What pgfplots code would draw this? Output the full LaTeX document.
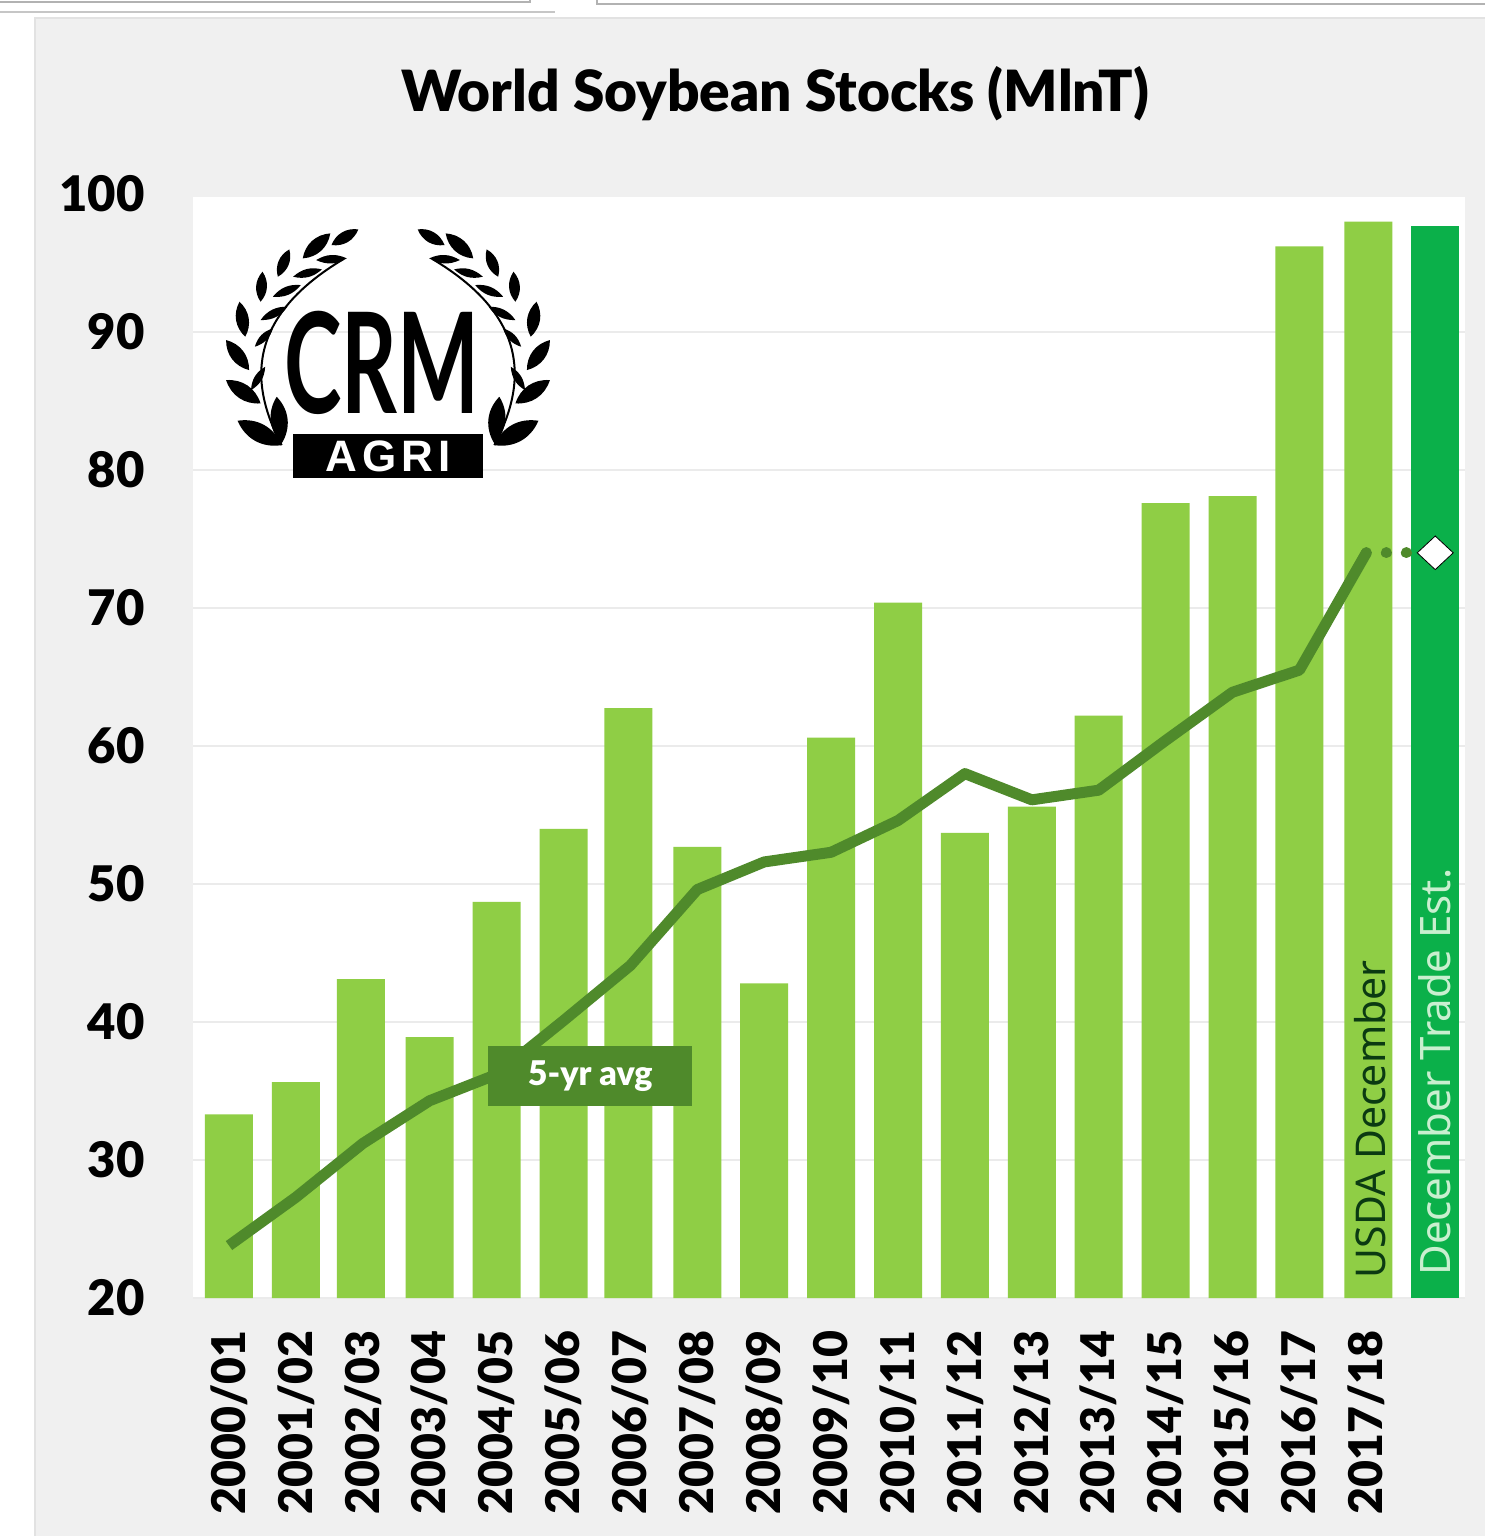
\documentclass[border=0pt]{standalone}
\usepackage{fontspec}
\setmainfont{Lato}
\newfontfamily\heavyfont{Lato Black}
\newfontfamily\thinfont{Noto Sans}
\newfontfamily\agrifont[LetterSpace=12]{Liberation Sans}
\usepackage{pgfplots}
\pgfplotsset{compat=1.18}
\definecolor{panel}{HTML}{F0F0F0}
\definecolor{panelline}{HTML}{E2E2E2}
\definecolor{gridc}{HTML}{EBEBEB}
\definecolor{barc}{HTML}{8FCE45}
\definecolor{estc}{HTML}{0BB04A}
\definecolor{avgc}{HTML}{4F8A2B}
\definecolor{usdac}{HTML}{0B3A12}
\definecolor{estt}{HTML}{C9EFCF}
\begin{document}
% 1 unit = 1 reference pixel, y downwards
\begin{tikzpicture}[x=0.5pt,y=-0.5pt]
\path[use as bounding box] (0,0) rectangle (1485,1536);
% screenshot leftovers and grey panel
\fill[white] (0,0) rectangle (1485,1536);
\draw[gray!60,line width=0.8pt] (0,2) -- (530,2) -- (530,0);
\draw[gray!60,line width=0.8pt] (597,0) -- (597,4) -- (1485,4);
\draw[gray!45,line width=0.6pt] (0,12) -- (555,12);
\fill[panel] (35,18) rectangle (1485,1536);
\draw[panelline,line width=1.2pt] (35,1536) -- (35,18) -- (1485,18);
\node[font=\heavyfont\fontsize{28.4}{30}\selectfont,text=black] at (775,94) {World Soybean Stocks (MlnT)};

\begin{axis}[
	at={(96.5pt,-649pt)},anchor=south west,
	scale only axis,width=636pt,height=552pt,
	xmin=-0.538,xmax=18.475,ymin=20,ymax=100,
	axis line style={draw=none},
	axis background/.style={fill=white},
	major tick length=0pt,
	ytick={20,30,...,100},
	ymajorgrids,
	grid style={gridc,line width=1.3pt},
	xtick={0,...,17},
	xticklabels={2000/01,2001/02,2002/03,2003/04,2004/05,2005/06,2006/07,2007/08,2008/09,2009/10,2010/11,2011/12,2012/13,2013/14,2014/15,2015/16,2016/17,2017/18},
	/pgf/number format/assume math mode=true,
	tick label style={text=black},
	xticklabel style={font=\heavyfont\fontsize{23.2}{26}\selectfont,rotate=90,anchor=east,inner sep=0pt,xshift=-16pt},
	yticklabel style={font=\heavyfont\fontsize{24.5}{26}\selectfont,anchor=east,inner sep=0pt,xshift=-24pt},
	clip=false,
]
\addplot[ybar,bar width=24pt,bar shift=0pt,fill=barc,draw=none] coordinates {
	(0,33.3) (1,35.65) (1.97,43.1) (3,38.9) (4,48.7) (5,54) (5.97,62.75) (7,52.7) (8,42.8)
	(9,60.6) (10,70.4) (11,53.7) (12,55.6) (13,62.2) (14,77.6) (15,78.1) (16,96.2) (17.03,98)
};
\addplot[ybar,bar width=24pt,bar shift=0pt,fill=estc,draw=none] coordinates {(18.03,97.7)};
\addplot[avgc,line width=5.5pt,line join=round] coordinates {
	(0,23.8) (1,27.3) (2,31.2) (3,34.3) (4,36.2) (5,40.1) (6,44.1) (7,49.6) (8,51.6)
	(9,52.3) (10,54.6) (11,58) (12,56.1) (13,56.8) (14,60.4) (15,63.9) (16,65.5) (17,74)
};
\addplot[avgc,line width=5.5pt,line cap=round,dash pattern=on 0.01pt off 10pt] coordinates {(17,74) (18,74)};
\addplot[only marks,mark=diamond*,mark size=8.4pt,mark options={xscale=1.43,fill=white,draw=none}] coordinates {(18.03,74)};
\node[fill=avgc,text=white,font=\heavyfont\fontsize{17}{20}\selectfont,minimum width=102pt,minimum height=30pt,inner sep=0pt] at (axis cs:5.4,36.1) {\raisebox{-1.5pt}{5-yr avg}};
\node[rotate=90,anchor=west,inner sep=0pt,text=usdac,font=\thinfont\fontsize{20.5}{24}\selectfont] at (axis cs:17.05,21.4) {USDA December};
\node[rotate=90,anchor=west,inner sep=0pt,text=estt,font=\thinfont\fontsize{21}{24}\selectfont] at (axis cs:18.02,21.6) {December Trade Est.};
\end{axis}

% strip above the white plot area
\fill[panel] (193,190) rectangle (1465,197);

% CRM Agri logo
\foreach \mir/\org in {0.1916/0,-0.1916/388}{
\begin{scope}[shift={(\org pt,0pt)},x=\mir pt,y=-0.1667pt]
	\draw[black,line width=1pt] (735,1335) .. controls (640,1130) and (660,940) .. (895,778);
	\foreach \xa/\ya/\xb/\yb in {
		865/735/935/688, 790/775/862/700, 725/830/755/748, 680/905/685/815,
		640/1010/625/905, 650/1110/590/1020, 680/1210/590/1140, 735/1330/722/1190,
		735/1335/620/1262}
		\fill[black] (\xa,\ya) to[bend left=38] (\xb,\yb) to[bend left=38] (\xa,\ya);
	\foreach \xa/\ya/\xb/\yb in {
		825/780/905/775, 765/830/840/808, 712/890/785/855,
		680/960/750/920, 665/1040/712/985, 655/1170/692/1100}
		\fill[black] (\xa,\ya) to[bend left=28] (\xb,\yb) to[bend left=28] (\xa,\ya);
\end{scope}
}
\node[font=\bfseries\fontsize{70}{70}\selectfont,xscale=0.62,text=black,inner sep=0pt,text depth=0pt] at (382,362) {CRM};
\node[fill=black,text=white,font=\agrifont\bfseries\fontsize{22}{24}\selectfont,minimum width=95pt,minimum height=22pt,inner sep=0pt] at (388,456) {AGRI};
\end{tikzpicture}
\end{document}
